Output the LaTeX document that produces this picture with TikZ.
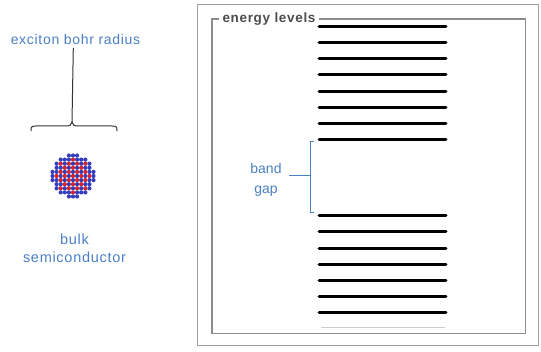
\documentclass[tikz,border=0pt]{standalone}
\usepackage{fontspec}
\setmainfont{Liberation Sans}
\newfontfamily\spacedfont[LetterSpace=5]{Liberation Sans}
\usetikzlibrary{calc}
\begin{document}
\begin{tikzpicture}[x=1pt,y=-1pt,
  lbl/.style={text=labelblue,font=\fontsize{14}{18}\selectfont,align=center,inner sep=0pt},
  level/.style={line width=3pt,line cap=round,black},
  framegray/.style={draw=gray!90,line width=1.3pt}]
\definecolor{labelblue}{RGB}{74,128,196}
\definecolor{atomred}{RGB}{220,30,40}
\definecolor{atomblue}{RGB}{50,60,190}
\useasboundingbox (0,0) rectangle (541,352);

% outer box
\draw[draw=gray!75,line width=1pt] (197,4.5) rectangle (538,346);

% framed panel with its title
\node[font=\spacedfont\bfseries\fontsize{13.5}{16}\selectfont,text=black!70,inner sep=3pt] (title) at (269,19) {energy levels};
\coordinate (fnw) at (212,19);
\coordinate (fne) at (525.5,19);
\coordinate (fse) at (525.5,333.5);
\coordinate (fsw) at (212,333.5);
\draw[framegray] (title.west |- fnw) -- (fnw) -- (fsw) -- (fse) -- (fne) -- (title.east |- fne);

% upper band
\foreach \y in {26.7,42.8,58.9,75,91.1,107.2,123.3,139.4}
  \draw[level] (319,\y) -- (446,\y);
% lower band
\foreach \y in {215.7,232,248.2,264.4,280.5,296.6,312.7}
  \draw[level] (319,\y) -- (446,\y);
\draw[gray!40,line width=1pt] (321,327.8) -- (445,327.8);

% band gap bracket
\coordinate (gtop) at (310.7,142);
\coordinate (gbot) at (310.7,212.5);
\coordinate (gmid) at (310.7,176);
\draw[labelblue,line width=1pt] ([xshift=3pt]gtop) -- (gtop) -- (gbot) -- ([xshift=3pt]gbot);
\node[lbl,font=\fontsize{14}{20}\selectfont] (gap) at (266,180) {band\\gap};
\draw[labelblue,line width=1pt] (289,176) -- (gmid);

% exciton radius brace
\node[lbl,font=\spacedfont\fontsize{14}{16}\selectfont] (exc) at (75.5,40) {exciton bohr radius};
\coordinate (stemtop) at (73.3,48);
\coordinate (bcen) at (72,122);
\coordinate (bl) at (31,131);
\coordinate (br) at (117,131);
\draw[black!80,line width=1pt] (stemtop) -- (bcen);
\draw[black!80,line width=1pt,line cap=round]
  (bl) .. controls (30.5,127) and (32,126) .. (36,126)
  -- (66,126) .. controls (70,126) and (71.5,125) .. (bcen)
  .. controls (72.5,125) and (74,126) .. (78,126)
  -- (112,126) .. controls (116,126) and (117.5,127) .. (br);

% nanocrystal
\coordinate (xtal) at (73,176);
\foreach \i in {-5,...,5}{
  \foreach \j in {-5,...,5}{
    \pgfmathsetmacro\rr{veclen(\i,\j)}
    \pgfmathtruncatemacro\parity{mod(\i+\j+20,2)}
    \pgfmathtruncatemacro\inside{\rr<5.3 ? 1 : 0}
    \pgfmathtruncatemacro\onedge{\rr>4.4 ? 1 : 0}
    \ifnum\inside=1
      \ifnum\onedge=1
        \fill[atomblue] ($(xtal)+(\i*4.1,\j*4.1)$) circle (2.1);
      \else
        \ifnum\parity=0
          \fill[atomred] ($(xtal)+(\i*4.1,\j*4.1)$) circle (2.1);
        \else
          \fill[atomblue] ($(xtal)+(\i*4.1,\j*4.1)$) circle (2.1);
        \fi
      \fi
    \fi
  }}
\node[lbl,font=\spacedfont\fontsize{14.5}{18}\selectfont] (bulk) at (74.5,248.5) {bulk\\semiconductor};
\end{tikzpicture}
\end{document}
